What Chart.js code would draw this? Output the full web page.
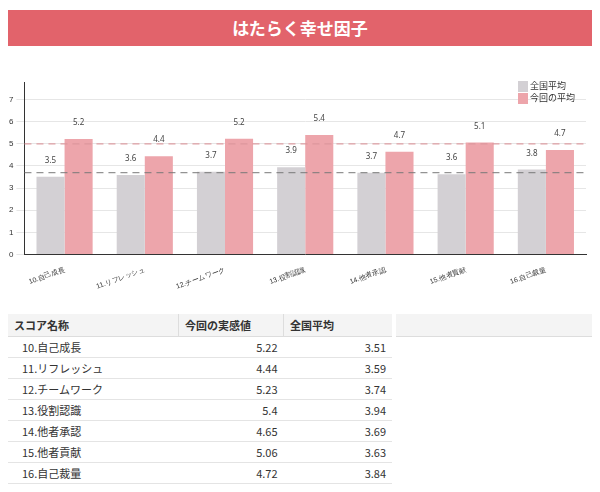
<!DOCTYPE html><html><head><meta charset="utf-8">
<script src="https://cdn.jsdelivr.net/npm/chart.js@4"></script>
<style>
body{margin:0;width:600px;height:492px;background:#fff;font-family:"Noto Sans CJK JP","Noto Sans",sans-serif;position:relative;overflow:hidden}
#ban{position:absolute;left:8px;top:10px;width:584px;height:36px;background:#e2636b;color:#fff;font-weight:bold;font-size:17px;text-align:center;line-height:36px}
#wrap{position:absolute;left:0;top:72px;width:600px;height:222px}
#leg{position:absolute;left:518px;top:80px;font-size:9px;color:#333;line-height:12px}
#leg span{display:inline-block;width:10px;height:11px;vertical-align:middle;margin-right:2px}
table{position:absolute;left:8px;top:314px;border-collapse:collapse;font-size:11px;color:#333}
td{height:20px;padding:0 6px;border-bottom:1px solid #e4e4e4}
th{height:22px;text-align:left;padding:0 6px;font-weight:bold;background:#f4f4f4;border-bottom:1px solid #ddd}
#hdrfill{position:absolute;left:396px;top:314px;width:196px;height:22px;background:#f4f4f4;border-bottom:1px solid #ddd}
</style></head><body>
<div id="ban">はたらく幸せ因子</div>
<div id="wrap"><canvas id="c" width="600" height="222"></canvas></div>
<div id="leg"><span style="background:#d3d0d4"></span>全国平均<br><span style="background:#eda5ab"></span>今回の平均</div>
<div id="hdrfill"></div>
<table id="t"><thead><tr><th style="width:158px">スコア名称</th><th style="width:92px;border-left:1px solid #ddd">今回の実感値</th><th style="width:96px;border-left:1px solid #ddd">全国平均</th></tr></thead><tbody></tbody></table>
<script>
const categories=["10.自己成長","11.リフレッシュ","12.チームワーク","13.役割認識","14.他者承認","15.他者貢献","16.自己裁量"];
const nationalAvg=[3.51,3.59,3.74,3.94,3.69,3.63,3.84];
const currentAvg=[5.22,4.44,5.23,5.4,4.65,5.06,4.72];
const refLines=[{v:5,c:"rgba(220,150,155,0.9)"},{v:3.7,c:"rgba(120,120,120,0.8)"}];
const tb=document.querySelector('#t tbody');
categories.forEach((c,i)=>{tb.innerHTML+=`<tr><td style="padding-left:14px">${c}</td><td style="text-align:right">${currentAvg[i]}</td><td style="text-align:right">${nationalAvg[i]}</td></tr>`});
const plug={id:'p',afterDatasetsDraw(ch){const ctx=ch.ctx,y=ch.scales.y,a=ch.chartArea;
ctx.save();refLines.forEach(r=>{ctx.strokeStyle=r.c;ctx.setLineDash([7,5]);ctx.lineWidth=1.2;ctx.beginPath();const py=y.getPixelForValue(r.v);ctx.moveTo(a.left,py);ctx.lineTo(a.right,py);ctx.stroke();});
ctx.setLineDash([]);ctx.fillStyle='#444';ctx.font='8px "Noto Sans"';ctx.textAlign='center';
ch.data.datasets.forEach((d,di)=>{ch.getDatasetMeta(di).data.forEach((b,i)=>{ctx.fillText(d.data[i].toFixed(1),b.x,b.y-14)})});ctx.restore();}};
new Chart(document.getElementById('c'),{type:'bar',data:{labels:categories,datasets:[
{label:'全国平均',data:nationalAvg,backgroundColor:'#d3d0d4'},
{label:'今回の平均',data:currentAvg,backgroundColor:'#eda5ab'}]},
options:{responsive:false,animation:false,maintainAspectRatio:false,layout:{padding:{left:6,right:14,top:10}},
plugins:{legend:{display:false},tooltip:{enabled:false}},
datasets:{bar:{categoryPercentage:0.7,barPercentage:1}},
scales:{x:{offset:true,grid:{display:false,drawTicks:true},border:{color:'#333'},ticks:{color:'#333',font:{size:7},maxRotation:20,minRotation:20}},
y:{min:0,max:7.8,afterBuildTicks(s){s.ticks=[0,1,2,3,4,5,6,7].map(v=>({value:v}))},grid:{color:'#e6e6e6'},border:{color:'#333'},ticks:{color:'#333',font:{size:8}}}}}
,plugins:[plug]});
</script></body></html>
